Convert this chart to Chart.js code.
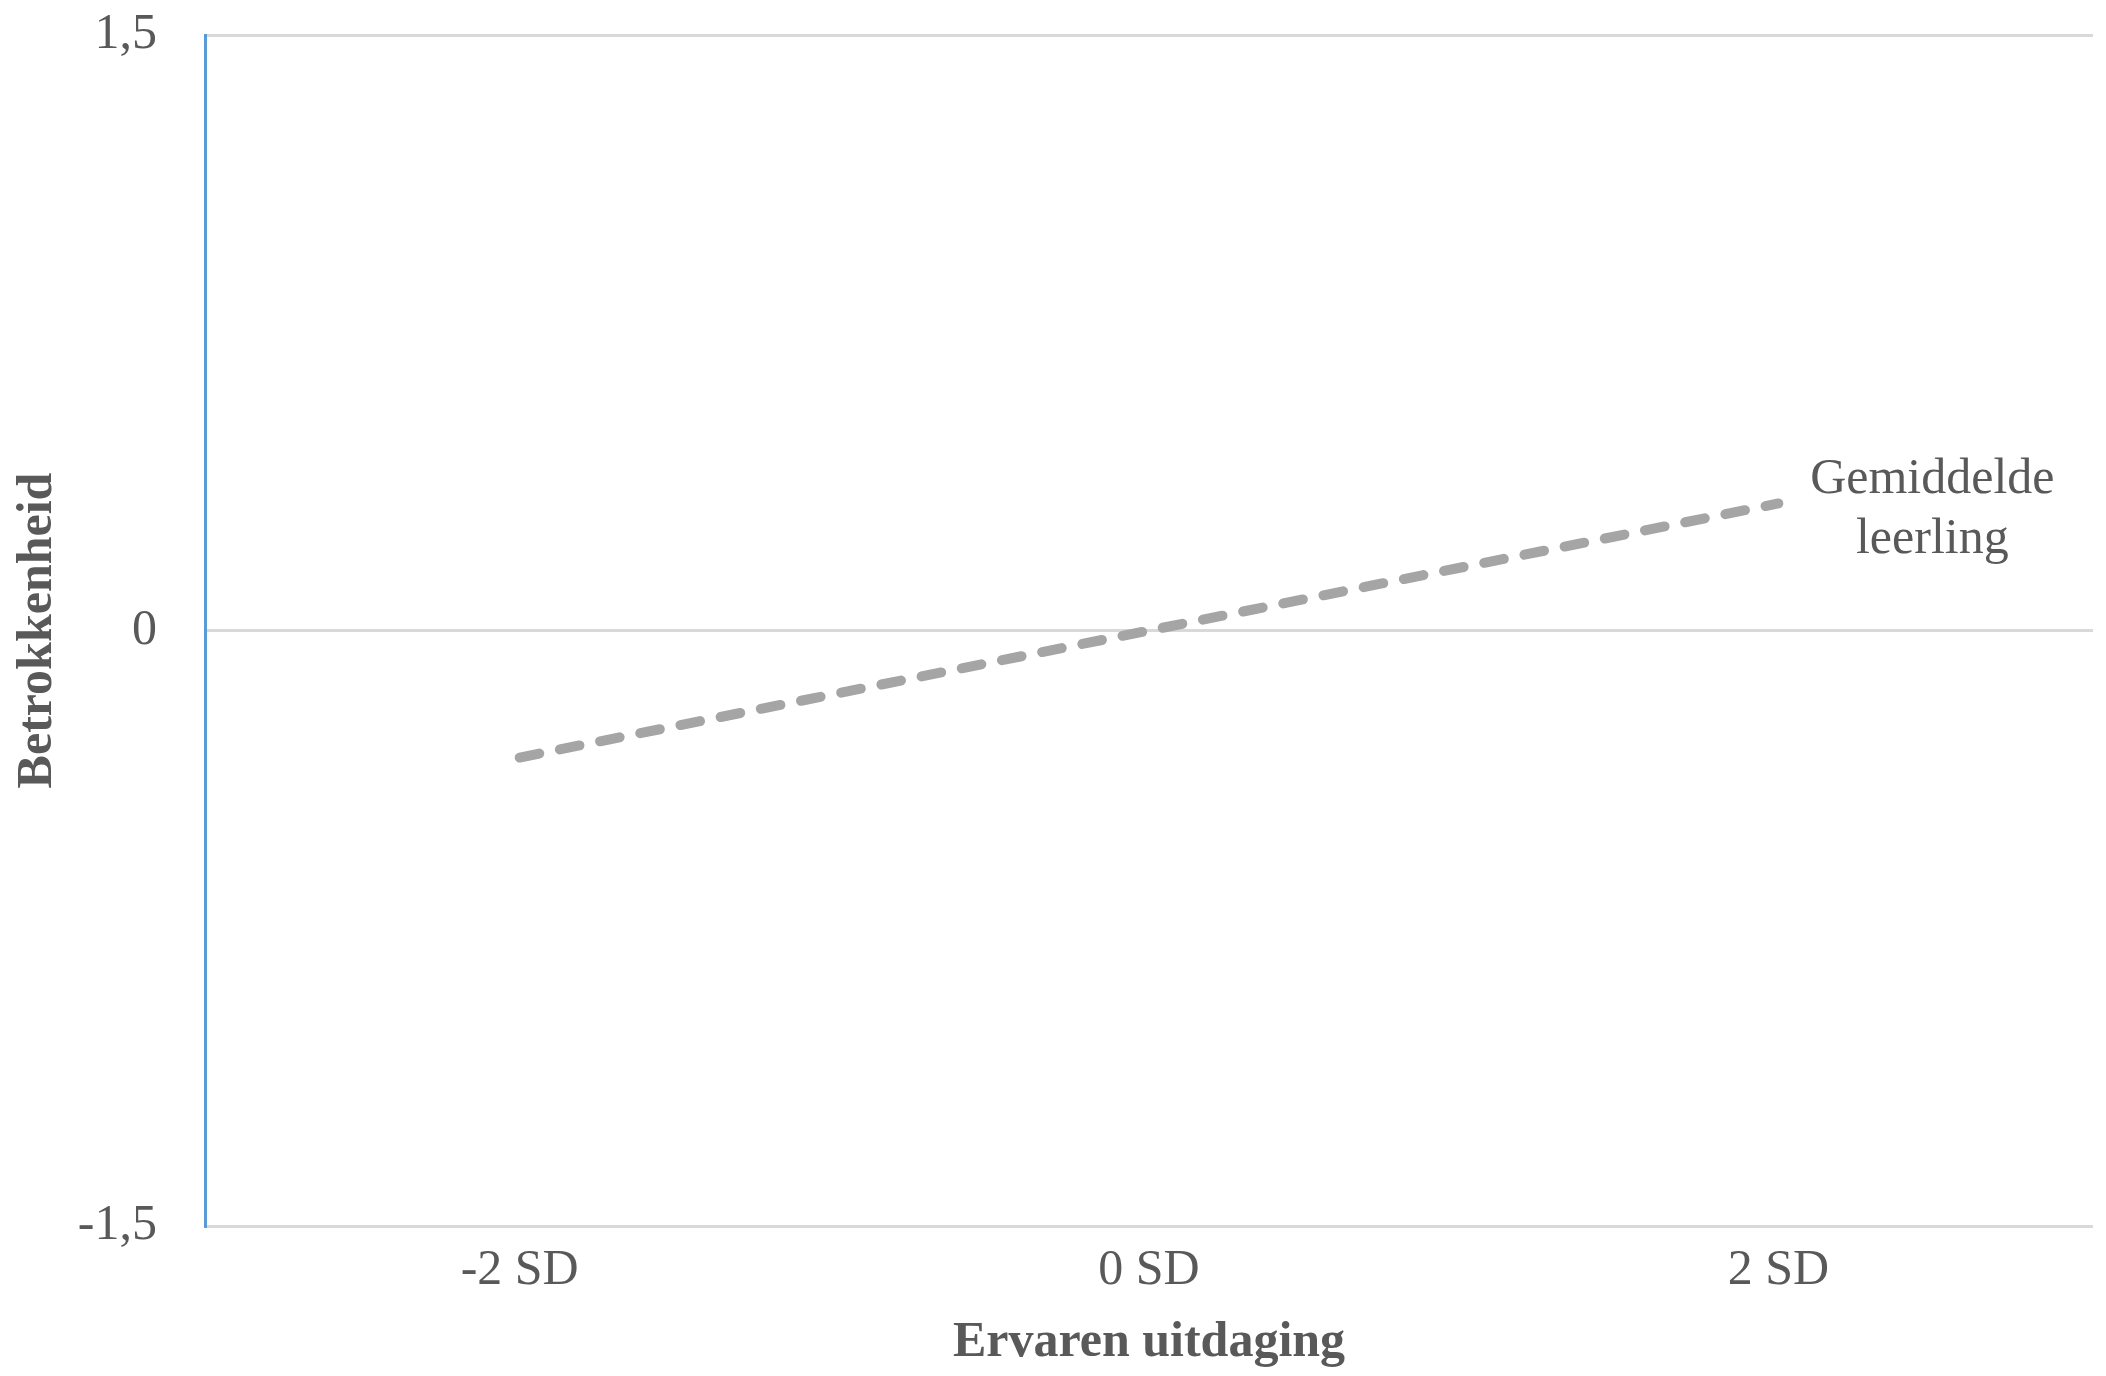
<!DOCTYPE html>
<html>
<head>
<meta charset="utf-8">
<title>Betrokkenheid</title>
<script src="https://cdn.jsdelivr.net/npm/chart.js@4/dist/chart.umd.min.js"></script>
<style>
  html, body { margin: 0; padding: 0; background: #fff; }
  canvas { display: block; }
</style>
</head>
<body>
<canvas id="chart" width="2106" height="1376"></canvas>
<script>
// Data
const categories = ["-2 SD", "0 SD", "2 SD"];
const values = [-0.32, 0, 0.32];
const yTickValues = [-1.5, 0, 1.5];
const yTickLabels = ["-1,5", "0", "1,5"];
const seriesLabel = ["Gemiddelde", "leerling"];

const textColor = "#595959";
const fontFamily = "'Liberation Serif', 'Times New Roman', serif";

// Writes the series name next to the last point of the line
const endLabel = {
  id: "endLabel",
  afterDatasetsDraw(chart) {
    const meta = chart.getDatasetMeta(0);
    const last = meta.data[meta.data.length - 1];
    const ctx = chart.ctx;
    ctx.save();
    ctx.font = "50px " + fontFamily;
    ctx.fillStyle = textColor;
    ctx.textAlign = "center";
    ctx.textBaseline = "alphabetic";
    ctx.fillText(seriesLabel[0], last.x + 154, last.y - 10);
    ctx.fillText(seriesLabel[1], last.x + 154, last.y + 50);
    ctx.restore();
  }
};

const ctx = document.getElementById("chart").getContext("2d");
new Chart(ctx, {
  type: "line",
  data: {
    labels: categories,
    datasets: [{
      label: seriesLabel.join(" "),
      data: values,
      borderColor: "#a5a5a5",
      borderWidth: 10,
      borderDash: [20, 21],
      borderCapStyle: "round",
      pointRadius: 0,
      tension: 0,
      fill: false
    }]
  },
  options: {
    responsive: false,
    animation: false,
    devicePixelRatio: 1,
    layout: { padding: { left: 0, right: 13, top: 35, bottom: 0 } },
    plugins: {
      legend: { display: false },
      tooltip: { enabled: false }
    },
    scales: {
      x: {
        offset: true,
        grid: { display: false, drawTicks: false },
        border: { display: false },
        ticks: {
          color: textColor,
          padding: 15,
          font: { family: fontFamily, size: 50, lineHeight: 1.2 }
        },
        title: {
          display: true,
          text: "Ervaren uitdaging",
          color: textColor,
          padding: 8,
          font: { family: fontFamily, size: 50, weight: "bold", lineHeight: 1 }
        },
        afterFit(scale) {
          scale.height = 150;
          scale.paddingLeft = 0;
          scale.paddingRight = 0;
        }
      },
      y: {
        min: -1.5,
        max: 1.5,
        afterBuildTicks(scale) {
          scale.ticks = yTickValues.map(v => ({ value: v }));
        },
        grid: { color: "#d9d9d9", lineWidth: 3, drawTicks: false },
        border: { display: true, color: "#5b9bd5", width: 3 },
        ticks: {
          color: textColor,
          padding: 48,
          font: { family: fontFamily, size: 50 },
          callback: (v) => yTickLabels[yTickValues.indexOf(v)]
        },
        title: {
          display: true,
          text: "Betrokkenheid",
          color: textColor,
          padding: 13,
          font: { family: fontFamily, size: 50, weight: "bold", lineHeight: 1 }
        },
        afterFit(scale) {
          scale.width = 205;
          scale.paddingTop = 0;
          scale.paddingBottom = 0;
        }
      }
    }
  },
  plugins: [endLabel]
});
</script>
</body>
</html>
